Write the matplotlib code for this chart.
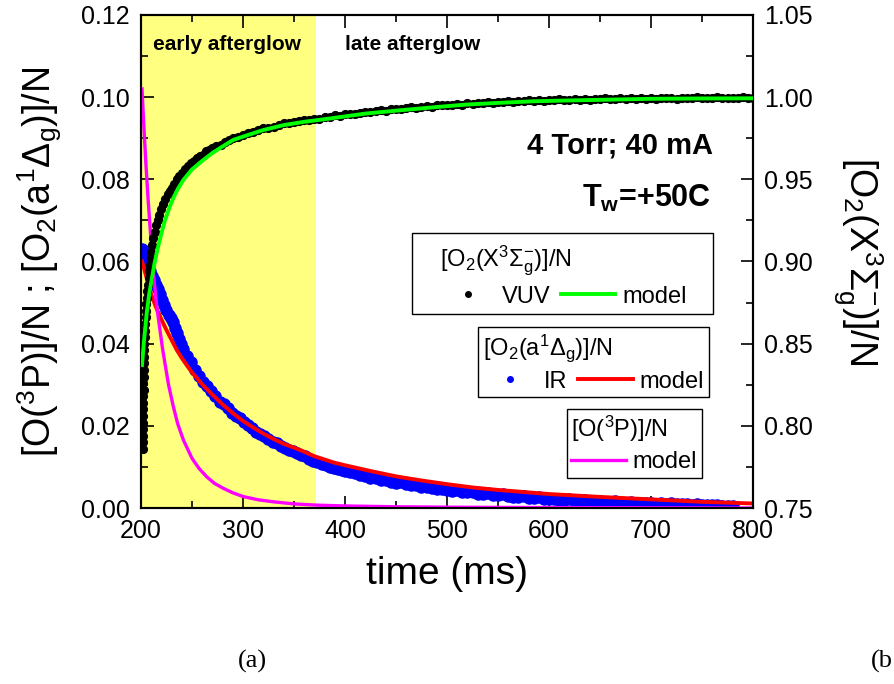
import matplotlib.pyplot as plt
from matplotlib.lines import Line2D
from matplotlib.patches import Rectangle
from matplotlib.ticker import MultipleLocator, FormatStrFormatter

plt.rcParams['font.family'] = ['Liberation Sans', 'DejaVu Sans']
plt.rcParams['mathtext.fontset'] = 'custom'
plt.rcParams['mathtext.rm'] = 'Liberation Sans'
plt.rcParams['mathtext.it'] = 'Liberation Sans:italic'
plt.rcParams['mathtext.bf'] = 'Liberation Sans:bold'

# VUV absorption, O2(X) ground state (right axis)
t_vuv = [201.6, 201.8, 201.6, 202, 201.8, 202.1, 202, 202.3, 202.2, 202.5,
         202.4, 202.7, 202.6, 203, 202.9, 203.3, 203.4, 203.7, 204, 204.3,
         204.6, 205, 205.4, 205.8, 206.3, 206.8, 207.4, 208, 208.7, 209.5,
         210.3, 211.2, 212, 213.5, 215, 216.5, 218, 220, 222, 224,
         226, 228, 230, 232.5, 235, 237.5, 240, 243, 246, 249,
         252, 255, 258, 261, 264, 267, 270, 274, 278, 282,
         286, 290, 295, 300, 305, 310, 315, 320, 325, 330,
         335, 340, 345, 350, 355, 360, 365, 370, 375, 380,
         385, 390, 395, 400, 405, 410, 415, 420, 425, 430,
         435, 440, 445, 450, 455, 460, 465, 470, 475, 480,
         485, 490, 495, 500, 505, 510, 515, 520, 525, 530,
         535, 540, 545, 550, 555, 560, 565, 570, 575, 580,
         585, 590, 595, 600, 605, 610, 615, 620, 625, 630,
         635, 640, 645, 650, 655, 660, 665, 670, 675, 680,
         685, 690, 695, 700, 705, 710, 715, 720, 725, 730,
         735, 740, 745, 750, 755, 760, 765, 770, 775, 780,
         785, 790, 795, 800]
vuv = [0.786, 0.790, 0.794, 0.798, 0.802, 0.806, 0.810, 0.814, 0.818, 0.822,
       0.826, 0.830, 0.834, 0.838, 0.842, 0.846, 0.850, 0.854, 0.858, 0.862,
       0.866, 0.870, 0.874, 0.878, 0.882, 0.886, 0.890, 0.894, 0.898, 0.902,
       0.906, 0.910, 0.914, 0.918, 0.922, 0.925, 0.928, 0.932, 0.935, 0.938,
       0.941, 0.943, 0.945, 0.947, 0.950, 0.952, 0.954, 0.956, 0.958, 0.960,
       0.961, 0.963, 0.964, 0.965, 0.967, 0.968, 0.969, 0.970, 0.971, 0.973,
       0.974, 0.975, 0.976, 0.977, 0.978, 0.979, 0.980, 0.981, 0.9815, 0.982,
       0.983, 0.984, 0.9845, 0.985, 0.9853, 0.986, 0.9862, 0.987, 0.9868, 0.988,
       0.9878, 0.989, 0.9888, 0.9895, 0.990, 0.9898, 0.9905, 0.991, 0.9908, 0.9915,
       0.992, 0.9918, 0.9925, 0.993, 0.9925, 0.9935, 0.9938, 0.9935, 0.9942, 0.9945,
       0.994, 0.995, 0.9952, 0.9955, 0.995, 0.996, 0.9955, 0.9962, 0.9958, 0.9965,
       0.9962, 0.997, 0.9966, 0.9972, 0.9968, 0.9975, 0.997, 0.9978, 0.9974, 0.998,
       0.9976, 0.9982, 0.9978, 0.9983, 0.998, 0.9986, 0.9982, 0.9985, 0.9988, 0.9983,
       0.9988, 0.9985, 0.999, 0.9986, 0.9992, 0.9987, 0.999, 0.9994, 0.9988, 0.9993,
       0.999, 0.9995, 0.999, 0.9994, 0.9991, 0.9996, 0.9992, 0.9995, 0.999, 0.9997,
       0.9993, 0.9996, 1.000, 0.9993, 0.9997, 0.9994, 0.9998, 0.9995, 0.9992, 0.9997,
       0.9994, 0.9998, 0.9995, 0.9993]

# model O2(X)
t_mod_x = [201, 203, 205.6, 208, 210.5, 213, 216, 220, 223.5, 228,
           232, 236, 241.5, 250, 259.5, 270, 280, 290.5, 305, 320,
           340, 360, 385, 420, 454, 490, 519, 550, 585, 620,
           660, 700, 750, 800]
mod_x = [0.837, 0.852, 0.8685, 0.880, 0.889, 0.898, 0.907, 0.917, 0.925, 0.933,
         0.939, 0.944, 0.9496, 0.956, 0.961, 0.966, 0.970, 0.974, 0.977, 0.980,
         0.983, 0.985, 0.987, 0.990, 0.992, 0.994, 0.9955, 0.9965, 0.9975, 0.998,
         0.9985, 0.999, 0.9992, 0.9993]

# IR emission, O2(a) (left axis)
t_ir = [200.5, 201, 202, 203, 205, 207, 209, 211, 213, 215,
        217, 219, 221, 223, 225, 227, 229, 231, 233, 235,
        237, 239, 241, 245, 249, 253, 257, 261, 265, 269,
        273, 277, 281, 285, 289, 293, 297, 301, 305, 309,
        313, 317, 321, 325, 329, 333, 337, 341, 345, 349,
        353, 357, 361, 365, 369, 373, 377, 381, 385, 389,
        393, 397, 400, 405, 410, 415, 420, 425, 430, 435,
        440, 445, 450, 455, 460, 465, 470, 475, 480, 485,
        490, 495, 500, 505, 510, 515, 520, 525, 530, 535,
        540, 545, 550, 555, 560, 565, 570, 575, 580, 585,
        590, 595, 600, 605, 610, 615, 620, 625, 630, 635,
        640, 645, 650, 655, 660, 665, 670, 675, 680, 685,
        690, 695, 700, 705, 710, 715, 720, 725, 730, 735,
        740, 745, 750, 755, 760, 765, 770, 775, 780]
ir = [0.0615, 0.0630, 0.0628, 0.0620, 0.0605, 0.0592, 0.0578, 0.0565, 0.0555, 0.0542,
      0.0532, 0.0520, 0.0506, 0.0494, 0.0482, 0.0470, 0.0462, 0.0452, 0.0438, 0.0425,
      0.0412, 0.0398, 0.0388, 0.0370, 0.0356, 0.0336, 0.0322, 0.0306, 0.0298, 0.0284,
      0.0272, 0.0259, 0.0252, 0.0243, 0.0232, 0.0223, 0.0218, 0.0210, 0.0201, 0.0195,
      0.0186, 0.0179, 0.0175, 0.0168, 0.0161, 0.0158, 0.0151, 0.0146, 0.0141, 0.0138,
      0.0133, 0.0128, 0.0126, 0.0120, 0.0115, 0.0113, 0.0108, 0.0104, 0.0101, 0.0097,
      0.0094, 0.0092, 0.0090, 0.0087, 0.0084, 0.0080, 0.0079, 0.0074, 0.0072, 0.0068,
      0.0069, 0.0064, 0.0061, 0.0063, 0.0058, 0.0055, 0.0057, 0.0052, 0.0050, 0.0049,
      0.0046, 0.0047, 0.0043, 0.0042, 0.0044, 0.0040, 0.0038, 0.0039, 0.0035, 0.0034,
      0.0036, 0.0032, 0.0031, 0.0033, 0.0029, 0.0028, 0.0027, 0.0029, 0.0025, 0.0024,
      0.0026, 0.0022, 0.0021, 0.0023, 0.0020, 0.0019, 0.0021, 0.0018, 0.0017, 0.0019,
      0.0016, 0.0015, 0.0017, 0.0015, 0.0014, 0.0016, 0.0013, 0.0012, 0.0014, 0.0012,
      0.0011, 0.0013, 0.0011, 0.0010, 0.0012, 0.0010, 0.0011, 0.0009, 0.0010, 0.0009,
      0.0008, 0.0010, 0.0008, 0.0007, 0.0008, 0.0007, 0.0006, 0.0006, 0.0005]

# model O2(a)
t_mod_a = [201, 205, 210, 215, 220, 225, 230, 235, 240, 245,
           250, 260, 270, 280, 290, 300, 310, 320, 330, 340,
           350, 360, 370, 380, 390, 400, 425, 450, 475, 500,
           525, 550, 575, 600, 650, 700, 750, 800]
mod_a = [0.0600, 0.0565, 0.0520, 0.0487, 0.0459, 0.0433, 0.0409, 0.0385, 0.0365, 0.0347,
         0.0330, 0.0301, 0.0276, 0.0252, 0.0231, 0.0212, 0.0196, 0.0181, 0.0168, 0.0156,
         0.0147, 0.0137, 0.0126, 0.0118, 0.0110, 0.0104, 0.0090, 0.0077, 0.0067, 0.0058,
         0.0050, 0.0044, 0.0039, 0.0034, 0.0027, 0.0021, 0.0015, 0.0011]

# model O(3P)
t_mod_o = [201, 203, 205, 207, 209, 211, 213, 215.5, 218.5, 221,
           223.5, 227, 231.7, 236, 241.5, 250, 257, 264.4, 272, 280.7,
           290, 300, 315, 330, 350, 372, 400, 450, 500, 600,
           700, 800]
mod_o = [0.102, 0.092, 0.083, 0.075, 0.068, 0.061, 0.055, 0.049, 0.0435, 0.039,
         0.0352, 0.030, 0.0247, 0.0205, 0.0166, 0.0121, 0.0096, 0.0076, 0.0060, 0.0048,
         0.0037, 0.0028, 0.0020, 0.0015, 0.0010, 0.0007, 0.0005, 0.0003, 0.0002, 0.0001,
         0.00005, 0.0]

early_end = 372

fig = plt.figure(figsize=(8.94, 6.84), dpi=100)
ax = fig.add_axes([0.1577, 0.2573, 0.6846, 0.7208])
ax2 = ax.twinx()

ax.axvspan(200, early_end, color='#ffff80', lw=0, zorder=0)
ax.plot(t_ir, ir, 'o', ms=8, color='#0000ff', mec='#0000ff', zorder=2)
ax.plot(t_mod_a, mod_a, '-', color='#ff0000', lw=2.8, zorder=3)
ax.plot(t_mod_o, mod_o, '-', color='#ff00ff', lw=2.4, zorder=3)
ax2.plot(t_vuv, vuv, 'o', ms=5.6, color='black', zorder=2)
ax2.plot(t_mod_x, mod_x, '-', color='#00ff00', lw=2.8, zorder=3)

ax.set_xlim(200, 800)
ax.set_ylim(0, 0.12)
ax2.set_ylim(0.75, 1.05)

ax.xaxis.set_major_locator(MultipleLocator(100))
ax.xaxis.set_minor_locator(MultipleLocator(50))
ax.yaxis.set_major_locator(MultipleLocator(0.02))
ax.yaxis.set_minor_locator(MultipleLocator(0.01))
ax.yaxis.set_major_formatter(FormatStrFormatter('%.2f'))
ax2.yaxis.set_major_locator(MultipleLocator(0.05))
ax2.yaxis.set_minor_locator(MultipleLocator(0.025))
ax2.yaxis.set_major_formatter(FormatStrFormatter('%.2f'))

for a in (ax, ax2):
    a.tick_params(which='both', direction='in', labelsize=18, width=1.2, pad=8)
    a.tick_params(which='major', length=9)
    a.tick_params(which='minor', length=5)
ax.tick_params(which='both', top=True)
for s in ax.spines.values():
    s.set_linewidth(1.5)
for s in ax2.spines.values():
    s.set_linewidth(1.5)

ax.set_xlabel('time (ms)', fontsize=28, labelpad=9)
ax.set_ylabel(r'[O($^3$P)]/N ; [O$_2$(a$^1\Delta_{\mathrm{g}}$)]/N', fontsize=27, labelpad=12)
ax2.set_ylabel(r'[O$_2$(X$^3\Sigma_{\mathrm{g}}^{-}$)]/N', fontsize=27, rotation=270,
               va='bottom', labelpad=14)

ax2.text(0.0196, 0.929, 'early afterglow', fontsize=15, weight='bold', transform=ax.transAxes)
ax2.text(0.333, 0.929, 'late afterglow', fontsize=15, weight='bold', transform=ax.transAxes)
ax2.text(0.935, 0.7195, '4 Torr; 40 mA', fontsize=21, weight='bold', ha='right',
         transform=ax.transAxes)
ax2.text(0.932, 0.6105, r'$\mathbf{T_w}$=+50C', fontsize=22, weight='bold', ha='right',
         transform=ax.transAxes)

leg_kw = dict(loc='upper right', bbox_transform=ax.transAxes, borderaxespad=0,
              fontsize=17, title_fontsize=17, alignment='left', fancybox=False,
              edgecolor='black', framealpha=1, handlelength=2.3, handletextpad=0.3,
              columnspacing=0.45, labelspacing=0.3)

# first key box is wider than its contents, so its frame is drawn separately
ax2.add_patch(Rectangle((0.4428, 0.3935), 0.4918, 0.1643, transform=ax.transAxes,
                        facecolor='white', edgecolor='black', lw=1.0, zorder=4))
leg1 = ax2.legend(handles=[Line2D([], [], ls='none', marker='o', ms=4, color='black'),
                           Line2D([], [], color='#00ff00', lw=2.8)],
                  labels=['VUV', 'model'], ncol=2,
                  title=r'[O$_2$(X$^3\Sigma_{\mathrm{g}}^{-}$)]/N',
                  bbox_to_anchor=(0.8997, 0.5445), borderpad=0.2, frameon=False,
                  **leg_kw)
ax2.add_artist(leg1)

leg2 = ax2.legend(handles=[Line2D([], [], ls='none', marker='o', ms=4, color='#0000ff'),
                           Line2D([], [], color='#ff0000', lw=2.8)],
                  labels=['IR', 'model'], ncol=2,
                  title=r'[O$_2$(a$^1\Delta_{\mathrm{g}}$)]/N',
                  bbox_to_anchor=(0.928, 0.3665), borderpad=0.2, **leg_kw)
leg2.get_frame().set_linewidth(1.0)
ax2.add_artist(leg2)

leg3 = ax2.legend(handles=[Line2D([], [], color='#ff00ff', lw=2.4)],
                  labels=['model'], ncol=1, title=r'[O($^3$P)]/N',
                  bbox_to_anchor=(0.9167, 0.2002), borderpad=0.2, **leg_kw)
leg3.get_frame().set_linewidth(1.0)

fig.text(252 / 894, 1 - 661 / 684, '(a)', fontsize=19, family='Liberation Serif',
         ha='center', va='center')
# the right-hand panel label is cut by the image border in the original
fig.text(871 / 894, 1 - 661 / 684, '(b', fontsize=19, family='Liberation Serif',
         ha='left', va='center')

fig.savefig('out.png', dpi=100)
